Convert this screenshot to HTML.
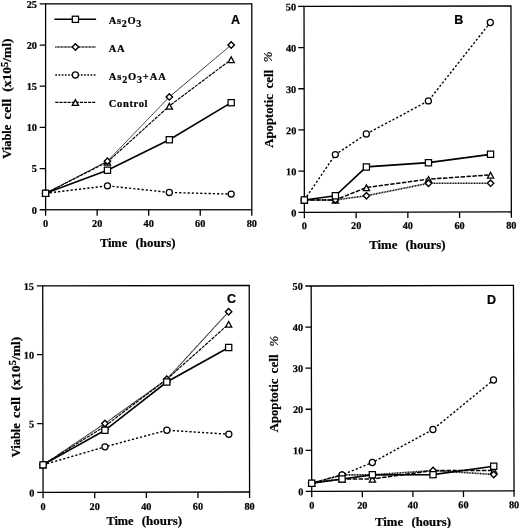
<!DOCTYPE html>
<html><head><meta charset="utf-8"><title>Figure</title>
<style>html,body{margin:0;padding:0;background:#fff}svg{display:block}text{fill:#000;stroke:#000;stroke-width:0.22px;stroke-linejoin:round}</style>
</head><body>
<svg width="520" height="528" viewBox="0 0 520 528">
<rect width="520" height="528" fill="#fff"/>
<g>
<rect x="45.60" y="3.85" width="206.20" height="205.90" fill="none" stroke="#000" stroke-width="1.3"/>
<path d="M45.60 209.75v5.9M97.15 209.75v5.9M148.70 209.75v5.9M200.25 209.75v5.9M251.80 209.75v5.9M45.60 209.75h-5.9M45.60 168.57h-5.9M45.60 127.39h-5.9M45.60 86.21h-5.9M45.60 45.03h-5.9M45.60 3.85h-5.9" stroke="#000" stroke-width="1.3" fill="none"/>
<text x="45.60" y="227.20" font-family='"Liberation Serif", serif' font-size="10.3" font-weight="bold" text-anchor="middle">0</text>
<text x="97.15" y="227.20" font-family='"Liberation Serif", serif' font-size="10.3" font-weight="bold" text-anchor="middle">20</text>
<text x="148.70" y="227.20" font-family='"Liberation Serif", serif' font-size="10.3" font-weight="bold" text-anchor="middle">40</text>
<text x="200.25" y="227.20" font-family='"Liberation Serif", serif' font-size="10.3" font-weight="bold" text-anchor="middle">60</text>
<text x="251.80" y="227.20" font-family='"Liberation Serif", serif' font-size="10.3" font-weight="bold" text-anchor="middle">80</text>
<text x="37.00" y="213.65" font-family='"Liberation Serif", serif' font-size="10.3" font-weight="bold" text-anchor="end">0</text>
<text x="37.00" y="172.47" font-family='"Liberation Serif", serif' font-size="10.3" font-weight="bold" text-anchor="end">5</text>
<text x="37.00" y="131.29" font-family='"Liberation Serif", serif' font-size="10.3" font-weight="bold" text-anchor="end">10</text>
<text x="37.00" y="90.11" font-family='"Liberation Serif", serif' font-size="10.3" font-weight="bold" text-anchor="end">15</text>
<text x="37.00" y="48.93" font-family='"Liberation Serif", serif' font-size="10.3" font-weight="bold" text-anchor="end">20</text>
<text x="37.00" y="7.75" font-family='"Liberation Serif", serif' font-size="10.3" font-weight="bold" text-anchor="end">25</text>
<path d="M45.60 193.28L107.46 161.98L169.32 105.98L231.18 59.44" fill="none" stroke="#000" stroke-width="1.15" stroke-dasharray="3.4 0.9"/>
<path d="M45.60 193.28L107.46 161.16L169.32 96.92L231.18 45.03" fill="none" stroke="#000" stroke-width="1.0" stroke-dasharray="1 0.3"/>
<path d="M45.60 193.28L107.46 185.87L169.32 192.45L231.18 194.10" fill="none" stroke="#000" stroke-width="1.4" stroke-dasharray="2.2 2.0"/>
<path d="M45.60 193.28L107.46 170.22L169.32 139.74L231.18 102.68" fill="none" stroke="#000" stroke-width="1.6"/>
<path d="M45.60 190.68L48.70 196.38L42.50 196.38Z" fill="#fff" stroke="#000" stroke-width="1.3"/>
<path d="M107.46 159.38L110.56 165.08L104.36 165.08Z" fill="#fff" stroke="#000" stroke-width="1.3"/>
<path d="M169.32 103.38L172.42 109.08L166.22 109.08Z" fill="#fff" stroke="#000" stroke-width="1.3"/>
<path d="M231.18 56.84L234.28 62.54L228.08 62.54Z" fill="#fff" stroke="#000" stroke-width="1.3"/>
<path d="M45.60 190.08L48.80 193.28L45.60 196.48L42.40 193.28Z" fill="#fff" stroke="#000" stroke-width="1.4"/>
<path d="M107.46 157.96L110.66 161.16L107.46 164.36L104.26 161.16Z" fill="#fff" stroke="#000" stroke-width="1.4"/>
<path d="M169.32 93.72L172.52 96.92L169.32 100.12L166.12 96.92Z" fill="#fff" stroke="#000" stroke-width="1.4"/>
<path d="M231.18 41.83L234.38 45.03L231.18 48.23L227.98 45.03Z" fill="#fff" stroke="#000" stroke-width="1.4"/>
<circle cx="45.60" cy="193.28" r="3.05" fill="#fff" stroke="#000" stroke-width="1.25"/>
<circle cx="107.46" cy="185.87" r="3.05" fill="#fff" stroke="#000" stroke-width="1.25"/>
<circle cx="169.32" cy="192.45" r="3.05" fill="#fff" stroke="#000" stroke-width="1.25"/>
<circle cx="231.18" cy="194.10" r="3.05" fill="#fff" stroke="#000" stroke-width="1.25"/>
<rect x="42.50" y="190.18" width="6.20" height="6.20" fill="#fff" stroke="#000" stroke-width="1.25"/>
<rect x="104.36" y="167.12" width="6.20" height="6.20" fill="#fff" stroke="#000" stroke-width="1.25"/>
<rect x="166.22" y="136.64" width="6.20" height="6.20" fill="#fff" stroke="#000" stroke-width="1.25"/>
<rect x="228.08" y="99.58" width="6.20" height="6.20" fill="#fff" stroke="#000" stroke-width="1.25"/>
</g>
<g transform="rotate(-0.1 407.7 109.2)">
<rect x="304.20" y="6.20" width="206.95" height="205.95" fill="none" stroke="#000" stroke-width="1.3"/>
<path d="M304.20 212.15v5.9M355.94 212.15v5.9M407.67 212.15v5.9M459.41 212.15v5.9M511.15 212.15v5.9M304.20 212.15h-5.9M304.20 170.96h-5.9M304.20 129.77h-5.9M304.20 88.58h-5.9M304.20 47.39h-5.9M304.20 6.20h-5.9" stroke="#000" stroke-width="1.3" fill="none"/>
<text x="304.20" y="229.00" font-family='"Liberation Serif", serif' font-size="10.3" font-weight="bold" text-anchor="middle">0</text>
<text x="355.94" y="229.00" font-family='"Liberation Serif", serif' font-size="10.3" font-weight="bold" text-anchor="middle">20</text>
<text x="407.67" y="229.00" font-family='"Liberation Serif", serif' font-size="10.3" font-weight="bold" text-anchor="middle">40</text>
<text x="459.41" y="229.00" font-family='"Liberation Serif", serif' font-size="10.3" font-weight="bold" text-anchor="middle">60</text>
<text x="511.15" y="229.00" font-family='"Liberation Serif", serif' font-size="10.3" font-weight="bold" text-anchor="middle">80</text>
<text x="296.30" y="216.35" font-family='"Liberation Serif", serif' font-size="10.3" font-weight="bold" text-anchor="end">0</text>
<text x="296.30" y="175.16" font-family='"Liberation Serif", serif' font-size="10.3" font-weight="bold" text-anchor="end">10</text>
<text x="296.30" y="133.97" font-family='"Liberation Serif", serif' font-size="10.3" font-weight="bold" text-anchor="end">20</text>
<text x="296.30" y="92.78" font-family='"Liberation Serif", serif' font-size="10.3" font-weight="bold" text-anchor="end">30</text>
<text x="296.30" y="51.59" font-family='"Liberation Serif", serif' font-size="10.3" font-weight="bold" text-anchor="end">40</text>
<text x="296.30" y="10.40" font-family='"Liberation Serif", serif' font-size="10.3" font-weight="bold" text-anchor="end">50</text>
<path d="M304.20 199.79L335.24 199.79L366.28 187.44L428.37 179.20L490.45 175.08" fill="none" stroke="#000" stroke-width="1.5" stroke-dasharray="4.4 1.5"/>
<path d="M304.20 199.79L335.24 199.79L366.28 195.67L428.37 183.32L490.45 183.32" fill="none" stroke="#000" stroke-width="1.6" stroke-dasharray="1 0.6"/>
<path d="M304.20 199.79L335.24 154.48L366.28 133.89L428.37 100.94L490.45 22.68" fill="none" stroke="#000" stroke-width="1.4" stroke-dasharray="2.2 2.0"/>
<path d="M304.20 199.79L335.24 195.67L366.28 166.84L428.37 162.72L490.45 154.48" fill="none" stroke="#000" stroke-width="1.7"/>
<path d="M304.20 197.19L307.30 202.89L301.10 202.89Z" fill="#fff" stroke="#000" stroke-width="1.3"/>
<path d="M335.24 197.19L338.34 202.89L332.14 202.89Z" fill="#fff" stroke="#000" stroke-width="1.3"/>
<path d="M366.28 184.84L369.38 190.54L363.18 190.54Z" fill="#fff" stroke="#000" stroke-width="1.3"/>
<path d="M428.37 176.60L431.47 182.30L425.27 182.30Z" fill="#fff" stroke="#000" stroke-width="1.3"/>
<path d="M490.45 172.48L493.56 178.18L487.35 178.18Z" fill="#fff" stroke="#000" stroke-width="1.3"/>
<path d="M304.20 196.59L307.40 199.79L304.20 202.99L301.00 199.79Z" fill="#fff" stroke="#000" stroke-width="1.4"/>
<path d="M335.24 196.59L338.44 199.79L335.24 202.99L332.04 199.79Z" fill="#fff" stroke="#000" stroke-width="1.4"/>
<path d="M366.28 192.47L369.48 195.67L366.28 198.87L363.08 195.67Z" fill="#fff" stroke="#000" stroke-width="1.4"/>
<path d="M428.37 180.12L431.57 183.32L428.37 186.52L425.17 183.32Z" fill="#fff" stroke="#000" stroke-width="1.4"/>
<path d="M490.45 180.12L493.65 183.32L490.45 186.52L487.25 183.32Z" fill="#fff" stroke="#000" stroke-width="1.4"/>
<circle cx="304.20" cy="199.79" r="3.05" fill="#fff" stroke="#000" stroke-width="1.25"/>
<circle cx="335.24" cy="154.48" r="3.05" fill="#fff" stroke="#000" stroke-width="1.25"/>
<circle cx="366.28" cy="133.89" r="3.05" fill="#fff" stroke="#000" stroke-width="1.25"/>
<circle cx="428.37" cy="100.94" r="3.05" fill="#fff" stroke="#000" stroke-width="1.25"/>
<circle cx="490.45" cy="22.68" r="3.05" fill="#fff" stroke="#000" stroke-width="1.25"/>
<rect x="301.10" y="196.69" width="6.20" height="6.20" fill="#fff" stroke="#000" stroke-width="1.25"/>
<rect x="332.14" y="192.57" width="6.20" height="6.20" fill="#fff" stroke="#000" stroke-width="1.25"/>
<rect x="363.18" y="163.74" width="6.20" height="6.20" fill="#fff" stroke="#000" stroke-width="1.25"/>
<rect x="425.27" y="159.62" width="6.20" height="6.20" fill="#fff" stroke="#000" stroke-width="1.25"/>
<rect x="487.35" y="151.38" width="6.20" height="6.20" fill="#fff" stroke="#000" stroke-width="1.25"/>
</g>
<g transform="rotate(-0.1 146.2 388.9)">
<rect x="42.90" y="285.70" width="206.50" height="206.50" fill="none" stroke="#000" stroke-width="1.3"/>
<path d="M42.90 492.20v5.9M94.53 492.20v5.9M146.15 492.20v5.9M197.78 492.20v5.9M249.40 492.20v5.9M42.90 492.20h-5.9M42.90 423.37h-5.9M42.90 354.53h-5.9M42.90 285.70h-5.9" stroke="#000" stroke-width="1.3" fill="none"/>
<text x="42.90" y="509.90" font-family='"Liberation Serif", serif' font-size="10.3" font-weight="bold" text-anchor="middle">0</text>
<text x="94.53" y="509.90" font-family='"Liberation Serif", serif' font-size="10.3" font-weight="bold" text-anchor="middle">20</text>
<text x="146.15" y="509.90" font-family='"Liberation Serif", serif' font-size="10.3" font-weight="bold" text-anchor="middle">40</text>
<text x="197.78" y="509.90" font-family='"Liberation Serif", serif' font-size="10.3" font-weight="bold" text-anchor="middle">60</text>
<text x="249.40" y="509.90" font-family='"Liberation Serif", serif' font-size="10.3" font-weight="bold" text-anchor="middle">80</text>
<text x="34.20" y="496.20" font-family='"Liberation Serif", serif' font-size="10.3" font-weight="bold" text-anchor="end">0</text>
<text x="34.20" y="427.37" font-family='"Liberation Serif", serif' font-size="10.3" font-weight="bold" text-anchor="end">5</text>
<text x="34.20" y="358.53" font-family='"Liberation Serif", serif' font-size="10.3" font-weight="bold" text-anchor="end">10</text>
<text x="34.20" y="289.70" font-family='"Liberation Serif", serif' font-size="10.3" font-weight="bold" text-anchor="end">15</text>
<path d="M42.90 464.67L104.85 426.12L166.80 379.31L228.75 324.25" fill="none" stroke="#000" stroke-width="1.15" stroke-dasharray="3.4 0.9"/>
<path d="M42.90 464.67L104.85 423.37L166.80 379.31L228.75 311.86" fill="none" stroke="#000" stroke-width="1.0" stroke-dasharray="1 0.3"/>
<path d="M42.90 464.67L104.85 446.77L166.80 430.25L228.75 434.38" fill="none" stroke="#000" stroke-width="1.4" stroke-dasharray="2.2 2.0"/>
<path d="M42.90 464.67L104.85 430.25L166.80 382.07L228.75 347.65" fill="none" stroke="#000" stroke-width="1.6"/>
<path d="M42.90 462.07L46.00 467.77L39.80 467.77Z" fill="#fff" stroke="#000" stroke-width="1.3"/>
<path d="M104.85 423.52L107.95 429.22L101.75 429.22Z" fill="#fff" stroke="#000" stroke-width="1.3"/>
<path d="M166.80 376.71L169.90 382.41L163.70 382.41Z" fill="#fff" stroke="#000" stroke-width="1.3"/>
<path d="M228.75 321.65L231.85 327.35L225.65 327.35Z" fill="#fff" stroke="#000" stroke-width="1.3"/>
<path d="M42.90 461.47L46.10 464.67L42.90 467.87L39.70 464.67Z" fill="#fff" stroke="#000" stroke-width="1.4"/>
<path d="M104.85 420.17L108.05 423.37L104.85 426.57L101.65 423.37Z" fill="#fff" stroke="#000" stroke-width="1.4"/>
<path d="M166.80 376.11L170.00 379.31L166.80 382.51L163.60 379.31Z" fill="#fff" stroke="#000" stroke-width="1.4"/>
<path d="M228.75 308.66L231.95 311.86L228.75 315.06L225.55 311.86Z" fill="#fff" stroke="#000" stroke-width="1.4"/>
<circle cx="42.90" cy="464.67" r="3.05" fill="#fff" stroke="#000" stroke-width="1.25"/>
<circle cx="104.85" cy="446.77" r="3.05" fill="#fff" stroke="#000" stroke-width="1.25"/>
<circle cx="166.80" cy="430.25" r="3.05" fill="#fff" stroke="#000" stroke-width="1.25"/>
<circle cx="228.75" cy="434.38" r="3.05" fill="#fff" stroke="#000" stroke-width="1.25"/>
<rect x="39.80" y="461.57" width="6.20" height="6.20" fill="#fff" stroke="#000" stroke-width="1.25"/>
<rect x="101.75" y="427.15" width="6.20" height="6.20" fill="#fff" stroke="#000" stroke-width="1.25"/>
<rect x="163.70" y="378.97" width="6.20" height="6.20" fill="#fff" stroke="#000" stroke-width="1.25"/>
<rect x="225.65" y="344.55" width="6.20" height="6.20" fill="#fff" stroke="#000" stroke-width="1.25"/>
</g>
<g transform="rotate(-0.16 412.6 388.4)">
<rect x="311.45" y="285.70" width="202.30" height="205.45" fill="none" stroke="#000" stroke-width="1.3"/>
<path d="M311.45 491.15v5.9M362.02 491.15v5.9M412.60 491.15v5.9M463.17 491.15v5.9M513.75 491.15v5.9M311.45 491.15h-5.9M311.45 450.06h-5.9M311.45 408.97h-5.9M311.45 367.88h-5.9M311.45 326.79h-5.9M311.45 285.70h-5.9" stroke="#000" stroke-width="1.3" fill="none"/>
<text x="311.45" y="508.50" font-family='"Liberation Serif", serif' font-size="10.3" font-weight="bold" text-anchor="middle">0</text>
<text x="362.02" y="508.50" font-family='"Liberation Serif", serif' font-size="10.3" font-weight="bold" text-anchor="middle">20</text>
<text x="412.60" y="508.50" font-family='"Liberation Serif", serif' font-size="10.3" font-weight="bold" text-anchor="middle">40</text>
<text x="463.17" y="508.50" font-family='"Liberation Serif", serif' font-size="10.3" font-weight="bold" text-anchor="middle">60</text>
<text x="513.75" y="508.50" font-family='"Liberation Serif", serif' font-size="10.3" font-weight="bold" text-anchor="middle">80</text>
<text x="303.20" y="494.95" font-family='"Liberation Serif", serif' font-size="10.3" font-weight="bold" text-anchor="end">0</text>
<text x="303.20" y="453.86" font-family='"Liberation Serif", serif' font-size="10.3" font-weight="bold" text-anchor="end">10</text>
<text x="303.20" y="412.77" font-family='"Liberation Serif", serif' font-size="10.3" font-weight="bold" text-anchor="end">20</text>
<text x="303.20" y="371.68" font-family='"Liberation Serif", serif' font-size="10.3" font-weight="bold" text-anchor="end">30</text>
<text x="303.20" y="330.59" font-family='"Liberation Serif", serif' font-size="10.3" font-weight="bold" text-anchor="end">40</text>
<text x="303.20" y="289.50" font-family='"Liberation Serif", serif' font-size="10.3" font-weight="bold" text-anchor="end">50</text>
<path d="M311.45 482.93L341.79 478.82L372.14 478.82L432.83 470.60L493.52 470.60" fill="none" stroke="#000" stroke-width="1.5" stroke-dasharray="4.4 1.5"/>
<path d="M311.45 482.93L341.79 474.71L372.14 474.71L432.83 470.60L493.52 474.71" fill="none" stroke="#000" stroke-width="1.6" stroke-dasharray="1 0.6"/>
<path d="M311.45 482.93L341.79 474.71L372.14 462.39L432.83 429.51L493.52 380.21" fill="none" stroke="#000" stroke-width="1.4" stroke-dasharray="2.2 2.0"/>
<path d="M311.45 482.93L341.79 478.82L372.14 474.71L432.83 474.71L493.52 466.50" fill="none" stroke="#000" stroke-width="1.7"/>
<path d="M311.45 480.33L314.55 486.03L308.35 486.03Z" fill="#fff" stroke="#000" stroke-width="1.3"/>
<path d="M341.79 476.22L344.89 481.92L338.69 481.92Z" fill="#fff" stroke="#000" stroke-width="1.3"/>
<path d="M372.14 476.22L375.24 481.92L369.04 481.92Z" fill="#fff" stroke="#000" stroke-width="1.3"/>
<path d="M432.83 468.00L435.93 473.70L429.73 473.70Z" fill="#fff" stroke="#000" stroke-width="1.3"/>
<path d="M493.52 468.00L496.62 473.70L490.42 473.70Z" fill="#fff" stroke="#000" stroke-width="1.3"/>
<path d="M311.45 479.73L314.65 482.93L311.45 486.13L308.25 482.93Z" fill="#fff" stroke="#000" stroke-width="1.4"/>
<path d="M341.79 471.51L344.99 474.71L341.79 477.91L338.59 474.71Z" fill="#fff" stroke="#000" stroke-width="1.4"/>
<path d="M372.14 471.51L375.34 474.71L372.14 477.91L368.94 474.71Z" fill="#fff" stroke="#000" stroke-width="1.4"/>
<path d="M432.83 467.40L436.03 470.60L432.83 473.80L429.63 470.60Z" fill="#fff" stroke="#000" stroke-width="1.4"/>
<path d="M493.52 471.51L496.72 474.71L493.52 477.91L490.32 474.71Z" fill="#fff" stroke="#000" stroke-width="1.4"/>
<circle cx="311.45" cy="482.93" r="3.05" fill="#fff" stroke="#000" stroke-width="1.25"/>
<circle cx="341.79" cy="474.71" r="3.05" fill="#fff" stroke="#000" stroke-width="1.25"/>
<circle cx="372.14" cy="462.39" r="3.05" fill="#fff" stroke="#000" stroke-width="1.25"/>
<circle cx="432.83" cy="429.51" r="3.05" fill="#fff" stroke="#000" stroke-width="1.25"/>
<circle cx="493.52" cy="380.21" r="3.05" fill="#fff" stroke="#000" stroke-width="1.25"/>
<rect x="308.35" y="479.83" width="6.20" height="6.20" fill="#fff" stroke="#000" stroke-width="1.25"/>
<rect x="338.69" y="475.72" width="6.20" height="6.20" fill="#fff" stroke="#000" stroke-width="1.25"/>
<rect x="369.04" y="471.61" width="6.20" height="6.20" fill="#fff" stroke="#000" stroke-width="1.25"/>
<rect x="429.73" y="471.61" width="6.20" height="6.20" fill="#fff" stroke="#000" stroke-width="1.25"/>
<rect x="490.42" y="463.40" width="6.20" height="6.20" fill="#fff" stroke="#000" stroke-width="1.25"/>
</g>
<path d="M54.40 19.30L96.10 19.30" fill="none" stroke="#000" stroke-width="1.5"/>
<rect x="72.30" y="16.20" width="6.20" height="6.20" fill="#fff" stroke="#000" stroke-width="1.25"/>
<text x="108.75" y="24.20" font-family='"Liberation Serif", serif' font-size="10.5" font-weight="bold" text-anchor="start" textLength="32.5" lengthAdjust="spacing">As<tspan dy="2.6" font-size="10">2</tspan><tspan dy="-2.6">O</tspan><tspan dy="2.6" font-size="10">3</tspan></text>
<path d="M55.30 47.00L96.00 47.00" fill="none" stroke="#000" stroke-width="1.4" stroke-dasharray="0.9 0.5"/>
<path d="M75.40 43.80L78.60 47.00L75.40 50.20L72.20 47.00Z" fill="#fff" stroke="#000" stroke-width="1.4"/>
<text x="108.75" y="51.90" font-family='"Liberation Serif", serif' font-size="10.5" font-weight="bold" text-anchor="start" textLength="15.75" lengthAdjust="spacing">AA</text>
<path d="M55.30 75.00L96.00 75.00" fill="none" stroke="#000" stroke-width="1.4" stroke-dasharray="1.7 1.5"/>
<circle cx="75.40" cy="75.00" r="3.05" fill="#fff" stroke="#000" stroke-width="1.25"/>
<text x="108.75" y="79.90" font-family='"Liberation Serif", serif' font-size="10.5" font-weight="bold" text-anchor="start" textLength="57.0" lengthAdjust="spacing">As<tspan dy="2.6" font-size="10">2</tspan><tspan dy="-2.6">O</tspan><tspan dy="2.6" font-size="10">3</tspan><tspan dy="-2.6">+AA</tspan></text>
<path d="M55.30 102.30L96.00 102.30" fill="none" stroke="#000" stroke-width="1.25" stroke-dasharray="3.1 1.0"/>
<path d="M75.40 99.70L78.50 105.40L72.30 105.40Z" fill="#fff" stroke="#000" stroke-width="1.3"/>
<text x="108.75" y="107.20" font-family='"Liberation Serif", serif' font-size="10.5" font-weight="bold" text-anchor="start" textLength="38.75" lengthAdjust="spacing">Control</text>
<text x="230.90" y="23.70" font-family='"Liberation Sans", sans-serif' font-size="12.5" font-weight="bold" stroke-width="0.4">A</text>
<text x="454.30" y="24.40" font-family='"Liberation Sans", sans-serif' font-size="12.5" font-weight="bold" stroke-width="0.4">B</text>
<text x="226.90" y="303.10" font-family='"Liberation Sans", sans-serif' font-size="12.5" font-weight="bold" stroke-width="0.4">C</text>
<text x="487.00" y="303.70" font-family='"Liberation Sans", sans-serif' font-size="12.5" font-weight="bold" stroke-width="0.4">D</text>
<text x="99.90" y="247.40" font-family='"Liberation Serif", serif' font-size="12.75" font-weight="bold" textLength="27.30" lengthAdjust="spacingAndGlyphs">Time</text>
<text x="135.60" y="247.40" font-family='"Liberation Serif", serif' font-size="12.75" font-weight="bold" textLength="40.00" lengthAdjust="spacingAndGlyphs">(hours)</text>
<text x="369.20" y="248.50" font-family='"Liberation Serif", serif' font-size="12.75" font-weight="bold" textLength="28.30" lengthAdjust="spacingAndGlyphs">Time</text>
<text x="405.40" y="248.50" font-family='"Liberation Serif", serif' font-size="12.75" font-weight="bold" textLength="40.20" lengthAdjust="spacingAndGlyphs">(hours)</text>
<text x="106.40" y="525.30" font-family='"Liberation Serif", serif' font-size="12.75" font-weight="bold" textLength="27.20" lengthAdjust="spacingAndGlyphs">Time</text>
<text x="141.80" y="525.30" font-family='"Liberation Serif", serif' font-size="12.75" font-weight="bold" textLength="40.20" lengthAdjust="spacingAndGlyphs">(hours)</text>
<text x="374.90" y="525.70" font-family='"Liberation Serif", serif' font-size="12.75" font-weight="bold" textLength="28.20" lengthAdjust="spacingAndGlyphs">Time</text>
<text x="411.40" y="525.70" font-family='"Liberation Serif", serif' font-size="12.75" font-weight="bold" textLength="39.60" lengthAdjust="spacingAndGlyphs">(hours)</text>
<text transform="translate(11.20 158.70) rotate(-90)" font-family='"Liberation Serif", serif' font-size="12.75" font-weight="bold" textLength="33.90" lengthAdjust="spacingAndGlyphs">Viable</text>
<text transform="translate(11.20 119.50) rotate(-90)" font-family='"Liberation Serif", serif' font-size="12.75" font-weight="bold" textLength="20.80" lengthAdjust="spacingAndGlyphs">cell</text>
<text transform="translate(11.20 91.70) rotate(-90)" font-family='"Liberation Serif", serif' font-size="12.75" font-weight="bold" textLength="53.10" lengthAdjust="spacingAndGlyphs">(x10<tspan dy="-3.3" font-size="9.8">5</tspan><tspan dy="3.3">/ml)</tspan></text>
<text transform="translate(19.70 457.30) rotate(-90)" font-family='"Liberation Serif", serif' font-size="12.75" font-weight="bold" textLength="34.10" lengthAdjust="spacingAndGlyphs">Viable</text>
<text transform="translate(19.70 417.90) rotate(-90)" font-family='"Liberation Serif", serif' font-size="12.75" font-weight="bold" textLength="20.90" lengthAdjust="spacingAndGlyphs">cell</text>
<text transform="translate(19.70 390.30) rotate(-90)" font-family='"Liberation Serif", serif' font-size="12.75" font-weight="bold" textLength="53.70" lengthAdjust="spacingAndGlyphs">(x10<tspan dy="-3.3" font-size="9.8">5</tspan><tspan dy="3.3">/ml)</tspan></text>
<text transform="translate(272.60 147.70) rotate(-90)" font-family='"Liberation Serif", serif' font-size="12.75" font-weight="bold" textLength="53.70" lengthAdjust="spacingAndGlyphs">Apoptotic</text>
<text transform="translate(272.60 88.40) rotate(-90)" font-family='"Liberation Serif", serif' font-size="12.75" font-weight="bold" textLength="18.60" lengthAdjust="spacingAndGlyphs">cell</text>
<text transform="translate(272.40 62.30) rotate(-90)" font-family='"Liberation Serif", serif' font-size="12.75" font-weight="normal" font-style="italic">%</text>
<text transform="translate(277.90 432.30) rotate(-90)" font-family='"Liberation Serif", serif' font-size="12.75" font-weight="bold" textLength="53.70" lengthAdjust="spacingAndGlyphs">Apoptotic</text>
<text transform="translate(277.90 373.40) rotate(-90)" font-family='"Liberation Serif", serif' font-size="12.75" font-weight="bold" textLength="19.00" lengthAdjust="spacingAndGlyphs">cell</text>
<text transform="translate(277.70 346.60) rotate(-90)" font-family='"Liberation Serif", serif' font-size="12.75" font-weight="normal" font-style="italic">%</text>
</svg></body></html>
